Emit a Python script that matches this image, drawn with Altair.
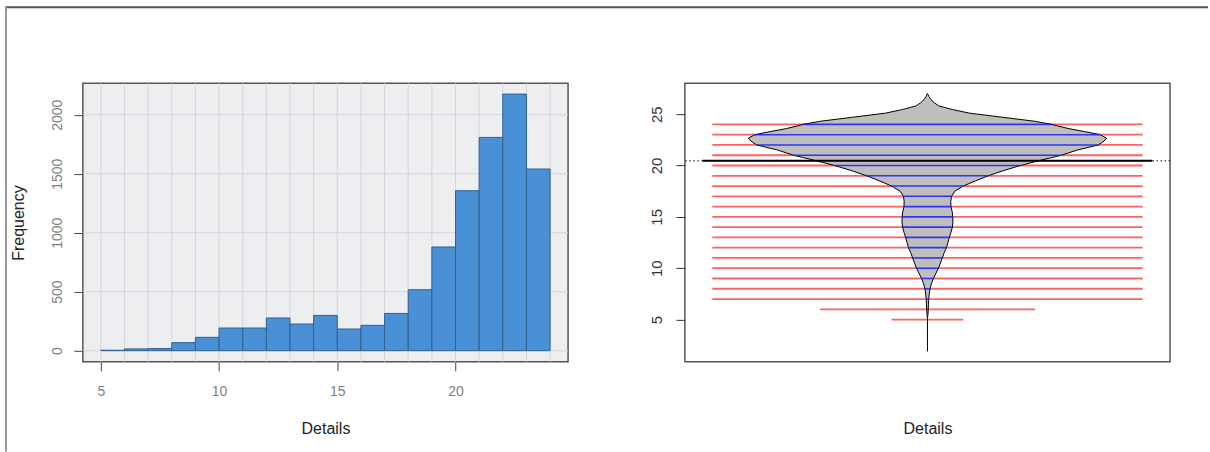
import altair as alt
import pandas as pd

# ---------------- data ----------------
# observed integer values and how many times each occurs
values = list(range(5, 25))
counts = [1, 3, 15, 18, 68, 113, 192, 192, 277, 226, 299, 184, 215, 316,
          517, 879, 1356, 1808, 2175, 1540]

# histogram bins (R style, right closed, first bin [5,6])
bin_starts = list(range(5, 24))
bin_counts = [counts[0] + counts[1]] + counts[2:]

# grid / tick values of the histogram
hist_x_grid = list(range(5, 25))
hist_y_grid = [0, 500, 1000, 1500, 2000]
hist_x_ticks = [5, 10, 15, 20]
hist_y_ticks = [0, 500, 1000, 1500, 2000]

# bean (violin) outline: value and relative half-width (density, max = 1)
bean_y = [5.2, 5.5, 6.0, 6.5, 7.0, 7.5, 8.0, 8.5, 9.0, 9.5, 10.0, 10.5, 11.0,
          11.5, 12.0, 12.5, 13.0, 13.5, 14.0, 14.5, 15.0, 15.5, 16.0, 16.5,
          17.0, 17.5, 18.0, 18.5, 19.0, 19.5, 20.0, 20.5, 21.0, 21.5, 22.0,
          22.3, 22.65, 23.0, 23.3, 23.6, 24.0, 24.3, 24.7, 25.1, 25.45, 25.8,
          26.1, 26.4, 26.7, 27.0]
bean_w = [0.0, 0.003, 0.0045, 0.0056, 0.007, 0.010, 0.0145, 0.022, 0.033,
          0.047, 0.061, 0.072, 0.083, 0.093, 0.106, 0.114, 0.122, 0.131,
          0.139, 0.142, 0.141, 0.138, 0.131, 0.130, 0.134, 0.153, 0.200,
          0.267, 0.339, 0.423, 0.518, 0.629, 0.746, 0.835, 0.952, 0.979,
          1.0, 0.963, 0.877, 0.785, 0.693, 0.601, 0.417, 0.234, 0.139,
          0.063, 0.039, 0.020, 0.009, 0.0]
bean_tail = [1.9, 5.2]
bean_y_ticks = [5, 10, 15, 20, 25]

# ---------------- style constants ----------------
FONT = "Liberation Sans"
W, H = 486, 279
LINE_UNIT = 0.2          # beanline length per observation
LINE_CAP = 6             # beanline length cap (observations)
AVG_HALF = 1.254         # half length of the bean average line
X_HALF = 1.353           # half width of the bean panel domain

# ---------------- left: histogram ----------------
hx = alt.Scale(domain=[4.24, 24.76], nice=False, zero=False)
hy = alt.Scale(domain=[-94, 2267], nice=False, zero=False)
hx_axis = alt.Axis(values=hist_x_ticks, title="Details", grid=False, domain=False,
                   format="d",
                   tickSize=9, tickColor="#444444", tickWidth=1,
                   labelFontSize=14, labelColor="#7f7f7f", labelPadding=14,
                   labelFont=FONT, titleFont=FONT, titleFontSize=16,
                   titleFontWeight="normal", titleColor="#222222",
                   titleBaseline="top", titleY=59)
hy_axis = alt.Axis(values=hist_y_ticks, title="Frequency", grid=False, domain=False,
                   format="d",
                   tickSize=9, tickColor="#444444", tickWidth=1,
                   labelAngle=270, labelAlign="center", labelBaseline="bottom",
                   labelFontSize=14, labelColor="#7f7f7f", labelPadding=9,
                   labelFont=FONT, titleFont=FONT, titleFontSize=16,
                   titleFontWeight="normal", titleColor="#222222",
                   titleAngle=270, titleBaseline="bottom", titleAlign="center",
                   titleX=-56, titleY=H / 2)

hist_df = pd.DataFrame({"start": bin_starts,
                        "end": [s + 1 for s in bin_starts],
                        "count": bin_counts})

vgrid = alt.Chart(pd.DataFrame({"g": hist_x_grid})).mark_rule(
    color="#d3d5d9", strokeWidth=1
).encode(x=alt.X("g:Q", scale=hx, axis=hx_axis))

hgrid = alt.Chart(pd.DataFrame({"g": hist_y_grid})).mark_rule(
    color="#d3d5d9", strokeWidth=1
).encode(y=alt.Y("g:Q", scale=hy, axis=hy_axis))

bars = alt.Chart(hist_df).mark_rect(
    fill="#4a90d6", stroke="#30608f", strokeWidth=1
).encode(
    x=alt.X("start:Q", scale=hx, axis=hx_axis),
    x2="end:Q",
    y=alt.Y("count:Q", scale=hy, axis=hy_axis),
    y2=alt.datum(0),
)

# outer frame of the screenshot (decoration)
frame_top = alt.Chart(pd.DataFrame({"d": [0]})).mark_rule(
    color="#555555", strokeWidth=2
).encode(x=alt.value(-78), x2=alt.value(1127), y=alt.value(-76))
frame_left = alt.Chart(pd.DataFrame({"d": [0]})).mark_rule(
    color="#999999", strokeWidth=2
).encode(x=alt.value(-77), y=alt.value(-77), y2=alt.value(369))

left = alt.layer(vgrid, hgrid, bars, frame_top, frame_left).properties(
    width=W, height=H,
    view=alt.ViewBackground(fill="#edeef0", stroke="#555555", strokeWidth=1.5),
)

# ---------------- right: bean plot ----------------
bx = alt.Scale(domain=[-X_HALF, X_HALF], nice=False, zero=False)
by = alt.Scale(domain=[0.89, 28.01], nice=False, zero=False)
bx_axis = alt.Axis(title="Details", labels=False, ticks=False, domain=False,
                   grid=False, titleFont=FONT, titleFontSize=16,
                   titleFontWeight="normal", titleColor="#222222",
                   titleBaseline="top", titleY=59)
by_axis = alt.Axis(values=bean_y_ticks, title=None, grid=False, domain=False,
                   format="d",
                   tickSize=9, tickColor="#333333", tickWidth=1,
                   labelAngle=270, labelAlign="center", labelBaseline="bottom",
                   labelFontSize=15, labelColor="#333333", labelPadding=11,
                   labelFont=FONT)

bean_df = pd.DataFrame({"y": bean_y,
                        "lo": [-w for w in bean_w],
                        "hi": bean_w})
w_at = dict(zip(bean_y, bean_w))
L = [min(c, LINE_CAP) * LINE_UNIT for c in counts]
wb = [min(w_at.get(float(v), 0.0), l) for v, l in zip(values, L)]
lines_df = pd.DataFrame({"v": values, "L": L, "nL": [-l for l in L],
                         "wb": wb, "nwb": [-x for x in wb]})

total = sum(counts)
mean_val = sum(v * c for v, c in zip(values, counts)) / total
mean_df = pd.DataFrame({"m": [mean_val], "a": [-AVG_HALF], "b": [AVG_HALF]})

overall = alt.Chart(mean_df).mark_rule(
    color="black", strokeWidth=1, strokeDash=[1.5, 2.5]
).encode(y=alt.Y("m:Q", scale=by, axis=by_axis))

bean = alt.Chart(bean_df).mark_area(
    orient="horizontal", fill="#bebebe", stroke="black", strokeWidth=1
).encode(
    y=alt.Y("y:Q", scale=by, axis=by_axis),
    x=alt.X("lo:Q", scale=bx, axis=bx_axis),
    x2="hi:Q",
)

tail = alt.Chart(pd.DataFrame({"y1": [bean_tail[0]], "y2": [bean_tail[1]]})).mark_rule(
    color="black", strokeWidth=1
).encode(
    x=alt.datum(0, scale=bx),
    y=alt.Y("y1:Q", scale=by, axis=by_axis),
    y2="y2:Q",
)

red = alt.Chart(lines_df).mark_rule(color="#ff2020", strokeWidth=1.8, opacity=0.7).encode(
    y=alt.Y("v:Q", scale=by, axis=by_axis),
    x=alt.X("nL:Q", scale=bx, axis=bx_axis),
    x2="L:Q",
)
blue = alt.Chart(lines_df).mark_rule(color="#1a1aff", strokeWidth=1.6, opacity=0.85).encode(
    y=alt.Y("v:Q", scale=by, axis=by_axis),
    x=alt.X("nwb:Q", scale=bx, axis=bx_axis),
    x2="wb:Q",
)

avg = alt.Chart(mean_df).mark_rule(color="black", strokeWidth=2).encode(
    y=alt.Y("m:Q", scale=by, axis=by_axis),
    x=alt.X("a:Q", scale=bx, axis=bx_axis),
    x2="b:Q",
)

right = alt.layer(overall, red, bean, tail, blue, avg).properties(
    width=W, height=H,
    view=alt.ViewBackground(fill="white", stroke="#555555", strokeWidth=1.5),
)

chart = alt.hconcat(left, right, spacing=117, bounds="flush").properties(
    padding={"left": 3, "top": 4, "right": 0, "bottom": 0},
    background="white",
)

chart.save("out.html", embed_options={"renderer": "svg", "actions": False})
